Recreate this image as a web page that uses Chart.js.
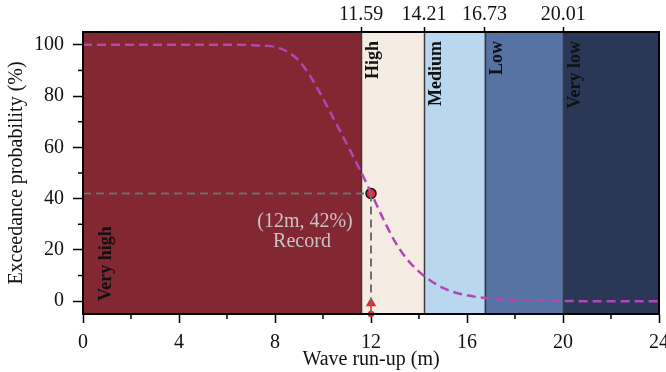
<!DOCTYPE html>
<html>
<head>
<meta charset="utf-8">
<script src="https://cdn.jsdelivr.net/npm/chart.js@4"></script>
<style>
  body { margin: 0; background: #fff; }
  #wrap { width: 666px; height: 372px; }
</style>
</head>
<body>
<div id="wrap"><canvas id="chart" width="666" height="372"></canvas></div>
<script>
// Exceedance curve of wave run-up
const runup = [0, 2, 4, 6, 6.5, 7, 7.5, 8, 8.5, 9, 9.5, 10, 10.5, 11, 11.5, 12, 12.5, 13, 13.5, 14, 14.5, 15, 15.5, 16, 16.5, 17, 18, 19, 20, 21, 22, 23, 24];
const exceedance = [100, 100, 100, 100, 100, 99.9, 99.7, 99.2, 97.4, 93.8, 87.3, 79, 70.2, 61.2, 52, 42.3, 32.3, 23.2, 16.4, 11.5, 7.9, 5.2, 3.4, 2.3, 1.5, 1.0, 0.45, 0.2, 0.08, 0, 0, 0, 0];

// hazard bands (edges in m)
const bandEdges = [0, 11.59, 14.21, 16.73, 20.01, 24];
const bandNames = ['Very high', 'High', 'Medium', 'Low', 'Very low'];
const bandColors = ['#832733', '#f4ece2', '#b9d8f0', '#5673a3', '#2a3757'];

// recorded event
const recordRunup = 12;
const recordProb = 42;
const recordText = ['(12m, 42%)', 'Record'];

const xMajor = [0, 4, 8, 12, 16, 20, 24];
const xMinor = [2, 6, 10, 14, 18, 22];
const yMajor = [0, 20, 40, 60, 80, 100];
const yMinor = [10, 30, 50, 70, 90];
const topTicks = bandEdges.slice(1, 5);

const serif = "'Liberation Serif', 'Times New Roman', serif";

const bandsPlugin = {
  id: 'bands',
  beforeDatasetsDraw(chart) {
    const {ctx, chartArea: a, scales: {x, y}} = chart;
    ctx.save();
    for (let i = 0; i < bandNames.length; i++) {
      const x0 = x.getPixelForValue(bandEdges[i]);
      const x1 = x.getPixelForValue(bandEdges[i + 1]);
      ctx.fillStyle = bandColors[i];
      ctx.fillRect(x0, a.top, x1 - x0, a.bottom - a.top);
    }
    ctx.strokeStyle = '#3a3a3a';
    ctx.lineWidth = 1.5;
    topTicks.forEach(v => {
      const px = Math.round(x.getPixelForValue(v)) + 0.5;
      ctx.beginPath();
      ctx.moveTo(px, a.top);
      ctx.lineTo(px, a.bottom);
      ctx.stroke();
    });
    // band labels, rotated
    ctx.fillStyle = '#111';
    ctx.font = 'bold 18px ' + serif;
    ctx.textBaseline = 'middle';
    for (let i = 0; i < bandNames.length; i++) {
      const x0 = x.getPixelForValue(bandEdges[i]);
      ctx.save();
      if (i === 0) {
        ctx.translate(x0 + 23, a.bottom - 13);
        ctx.rotate(-Math.PI / 2);
        ctx.textAlign = 'left';
      } else {
        ctx.translate(x0 + 12.5, a.top + 9);
        ctx.rotate(-Math.PI / 2);
        ctx.textAlign = 'right';
      }
      ctx.fillText(bandNames[i], 0, 0);
      ctx.restore();
    }
    // record annotation text
    ctx.fillStyle = '#cbc3c3';
    ctx.font = '20px ' + serif;
    ctx.textAlign = 'center';
    const tx = x.getPixelForValue(recordRunup) - 66;
    const ty = y.getPixelForValue(recordProb);
    ctx.fillText(recordText[0], tx, ty + 28);
    ctx.fillText(recordText[1], tx - 3, ty + 48);
    ctx.restore();
  },
  afterDraw(chart) {
    const {ctx, chartArea: a, scales: {x, y}} = chart;
    ctx.save();
    ctx.strokeStyle = '#000';
    ctx.lineWidth = 1.5;
    // minor ticks
    xMinor.forEach(v => {
      const px = x.getPixelForValue(v);
      ctx.beginPath();
      ctx.moveTo(px, a.bottom);
      ctx.lineTo(px, a.bottom + 5);
      ctx.stroke();
    });
    yMinor.forEach(v => {
      const py = y.getPixelForValue(v);
      ctx.beginPath();
      ctx.moveTo(a.left, py);
      ctx.lineTo(a.left - 5, py);
      ctx.stroke();
    });
    ctx.lineWidth = 2;
    ctx.strokeRect(a.left, a.top, a.right - a.left, a.bottom - a.top);
    ctx.restore();
  }
};

const tickFont = {family: serif, size: 20};

new Chart(document.getElementById('chart'), {
  type: 'line',
  data: {
    datasets: [
      {
        data: [{x: 0, y: recordProb}, {x: recordRunup, y: recordProb}],
        borderColor: '#6f6f6f', borderWidth: 2, borderDash: [8, 5],
        pointRadius: 0
      },
      {
        data: [{x: recordRunup, y: recordProb}, {x: recordRunup, y: -5}],
        borderColor: '#6f6f6f', borderWidth: 2, borderDash: [8, 5],
        pointRadius: 0
      },
      {
        data: [{x: recordRunup, y: -5}, {x: recordRunup, y: -0.8}],
        borderColor: '#ee2222', borderWidth: 1.5,
        pointRadius: [2.5, 4.5], pointStyle: ['circle', 'triangle'],
        pointBackgroundColor: '#ee2222', pointBorderColor: '#ee2222',
        clip: false
      },
      {
        data: runup.map((v, i) => ({x: v, y: exceedance[i]})),
        borderColor: '#b445b4', borderWidth: 2.5, borderDash: [9, 5],
        cubicInterpolationMode: 'monotone', pointRadius: 0
      },
      {
        data: [{x: recordRunup, y: recordProb}],
        pointRadius: 5, pointBackgroundColor: '#f02020',
        pointBorderColor: '#111', pointBorderWidth: 1.5, showLine: false
      }
    ]
  },
  options: {
    responsive: false,
    animation: false,
    layout: {padding: {left: 0, right: 7, top: 0, bottom: 0}},
    plugins: {legend: {display: false}, tooltip: {enabled: false}},
    scales: {
      x: {
        type: 'linear', position: 'bottom', min: 0, max: 24,
        afterBuildTicks: s => { s.ticks = xMajor.map(v => ({value: v})); },
        afterFit: s => { s.height = 58; s.paddingLeft = 0; s.paddingRight = 0; },
        grid: {drawOnChartArea: false, tickLength: 9, tickColor: '#000', tickWidth: 1.5},
        border: {display: false},
        ticks: {font: tickFont, color: '#111', padding: 8, maxRotation: 0, autoSkip: false},
        title: {display: true, text: 'Wave run-up (m)', font: tickFont, color: '#111', padding: {top: 4, bottom: 0}}
      },
      x2: {
        type: 'linear', position: 'top', min: 0, max: 24,
        afterBuildTicks: s => { s.ticks = topTicks.map(v => ({value: v})); },
        afterFit: s => { s.height = 32; s.paddingLeft = 0; s.paddingRight = 0; },
        grid: {drawOnChartArea: false, tickLength: 5, tickColor: '#000', tickWidth: 1.5},
        border: {display: false},
        ticks: {font: tickFont, color: '#111', padding: 0, maxRotation: 0, autoSkip: false,
          callback: v => v.toFixed(2)}
      },
      y: {
        type: 'linear', position: 'left', min: -5, max: 105,
        afterBuildTicks: s => { s.ticks = yMajor.map(v => ({value: v})); },
        afterFit: s => { s.width = 83; s.paddingTop = 0; s.paddingBottom = 0; },
        grid: {drawOnChartArea: false, tickLength: 10, tickColor: '#000', tickWidth: 1.5},
        border: {display: false},
        ticks: {font: tickFont, color: '#111', padding: 9},
        title: {display: true, text: 'Exceedance probability (%)', font: tickFont, color: '#111', padding: {top: 5, bottom: 0}}
      }
    }
  },
  plugins: [bandsPlugin]
});
</script>
</body>
</html>
